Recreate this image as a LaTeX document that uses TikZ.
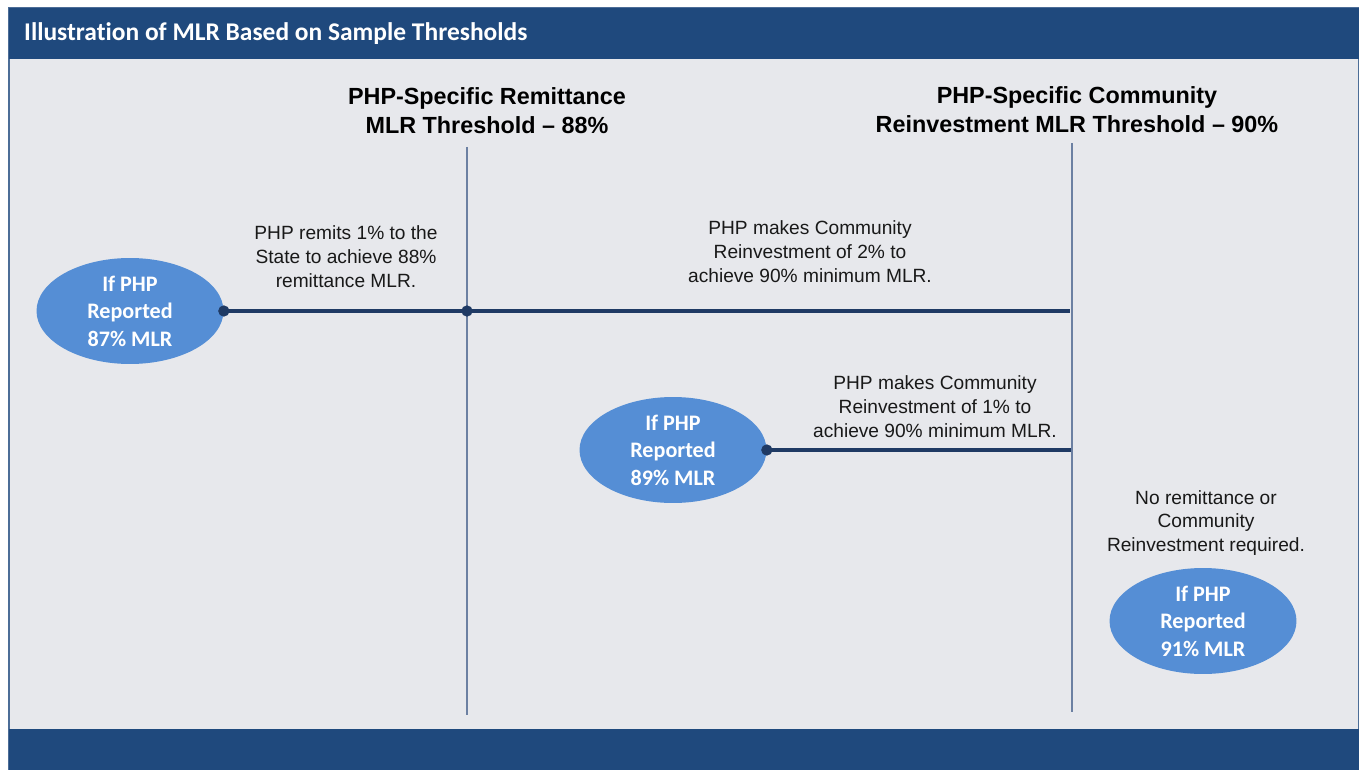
\documentclass[tikz,border=0pt]{standalone}
\usepackage{fontspec}
\setmainfont{Liberation Sans}
\newfontfamily\calibri[Ligatures=NoCommon]{Carlito}
\usepackage{tikz}
\usetikzlibrary{shapes.geometric,positioning}
\definecolor{barblue}{HTML}{1F497D}
\definecolor{panelgray}{HTML}{E7E8EC}
\definecolor{ovalblue}{HTML}{558ED5}
\definecolor{linenavy}{HTML}{1F3A64}
\definecolor{gridblue}{HTML}{6C80A2}

\begin{document}
\begin{tikzpicture}[x=0.02cm,y=-0.02cm,
	oval/.style={ellipse,fill=ovalblue,text=white,inner sep=0pt,minimum width=3.74cm,minimum height=2.12cm,align=center,font=\calibri\bfseries\fontsize{12.6}{15.6}\selectfont},
	dot/.style={circle,fill=linenavy,draw=linenavy,inner sep=0pt,minimum size=0.21cm},
	note/.style={align=center,text=black!90,font=\fontsize{10.9}{13.6}\selectfont},
	head/.style={align=center,font=\bfseries\fontsize{13.3}{16.4}\selectfont},
	level/.style={draw=gridblue,line width=0.9pt},
	link/.style={draw=linenavy,line width=2pt}]
	\useasboundingbox (0,0) rectangle (1359,770);
	% the panel
	\fill[white] (0,0) rectangle (1359,770);
	\draw[fill=panelgray,draw=barblue!80,line width=0.6pt] (9,8) rectangle (1359,770);
	\fill[barblue] (9,8) rectangle (1359,59);
	\fill[barblue] (9,729) rectangle (1359,770);
	\node[anchor=west,text=white,font=\calibri\bfseries\fontsize{14.5}{17}\selectfont] (title) at (18,34) {Illustration of MLR Based on Sample Thresholds};
	%% the two thresholds
	\node[head] (h88) at (487,111) {PHP-Specific Remittance\\MLR Threshold -- 88\%};
	\node[head] (h90) at (1077,110) {PHP-Specific Community\\Reinvestment MLR Threshold -- 90\%};
	\coordinate (t88) at (467,147);
	\coordinate (b88) at (467,715);
	\coordinate (t90) at (1072,143);
	\coordinate (b90) at (1072,712);
	\draw[level] (t88) -- (b88);
	\draw[level] (t90) -- (b90);
	%% reported 87%
	\node[oval] (e87) at (130,311) {If PHP\\Reported\\87\% MLR};
	\node[dot] (d87) at (e87.east) {};
	\node[dot] (d88) at (467,311) {};
	\coordinate (end87) at (1070,311);
	\draw[link] (d87.center) -- (d88.center) -- (end87);
	\node[note] (n87) at (346,257) {PHP remits 1\% to the\\State to achieve 88\%\\remittance MLR.};
	\node[note] (n88) at (810,252) {PHP makes Community\\Reinvestment of 2\% to\\achieve 90\% minimum MLR.};
	%% reported 89%
	\node[oval] (e89) at (673,450) {If PHP\\Reported\\89\% MLR};
	\node[dot] (d89) at (e89.east) {};
	\coordinate (end89) at (1071,450);
	\draw[link] (d89.center) -- (end89);
	\node[note] (n89) at (935,407) {PHP makes Community\\Reinvestment of 1\% to\\achieve 90\% minimum MLR.};
	%% reported 91%
	\node[note] (n91) at (1206,523) {No remittance or\\Community\\Reinvestment required.};
	\node[oval] (e91) at (1203,621) {If PHP\\Reported\\91\% MLR};
\end{tikzpicture}
\end{document}
